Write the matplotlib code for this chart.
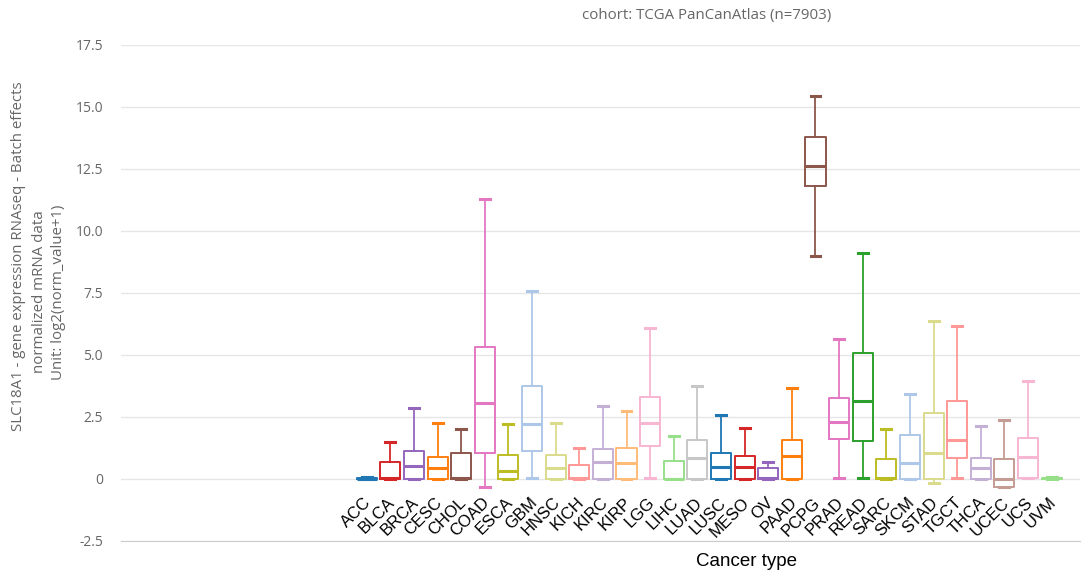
import matplotlib
matplotlib.use("Agg")
import matplotlib.pyplot as plt
import numpy as np

categories = ["ACC", "BLCA", "BRCA", "CESC", "CHOL", "COAD", "ESCA", "GBM", "HNSC", "KICH",
              "KIRC", "KIRP", "LGG", "LIHC", "LUAD", "LUSC", "MESO", "OV", "PAAD", "PCPG",
              "PRAD", "READ", "SARC", "SKCM", "STAD", "TGCT", "THCA", "UCEC", "UCS", "UVM"]
whisker_low = [0.0, 0.0, 0.0, 0.0, 0.0, -0.31, 0.0, 0.05, 0.0, 0.0,
               0.0, 0.0, 0.03, 0.0, 0.0, 0.0, 0.0, 0.0, 0.0, 9.0,
               0.03, 0.03, 0.0, 0.0, -0.17, 0.03, 0.0, -0.31, 0.03, 0.0]
q1 = [0.0, 0.0, 0.0, 0.0, 0.0, 1.06, 0.0, 1.14, 0.0, 0.0,
      0.0, 0.0, 1.34, 0.0, 0.0, 0.0, 0.0, 0.0, 0.0, 11.83,
      1.63, 1.53, 0.0, 0.0, 0.0, 0.83, 0.0, -0.31, 0.03, 0.0]
median = [0.02, 0.05, 0.54, 0.43, 0.05, 3.06, 0.32, 2.2, 0.46, 0.05,
          0.7, 0.66, 2.25, 0.02, 0.83, 0.5, 0.47, 0.03, 0.93, 12.63,
          2.31, 3.16, 0.03, 0.66, 1.04, 1.57, 0.46, 0.0, 0.88, 0.03]
q3 = [0.05, 0.67, 1.14, 0.9, 1.04, 5.32, 0.97, 3.76, 0.97, 0.56,
      1.2, 1.24, 3.29, 0.74, 1.57, 1.06, 0.93, 0.43, 1.57, 13.78,
      3.28, 5.09, 0.79, 1.76, 2.65, 3.15, 0.86, 0.79, 1.64, 0.05]
whisker_high = [0.1, 1.5, 2.85, 2.27, 2.03, 11.29, 2.23, 7.58, 2.27, 1.26,
                2.96, 2.75, 6.08, 1.75, 3.75, 2.58, 2.04, 0.7, 3.66, 15.46,
                5.66, 9.1, 2.0, 3.43, 6.38, 6.18, 2.15, 2.38, 3.96, 0.1]
colors = ["#1f77b4", "#d62728", "#9467bd", "#ff7f0e", "#8c564b", "#e377c2", "#bcbd22", "#aec7e8",
          "#dbdb8d", "#ff9896", "#c5b0d5", "#ffbb78", "#f7b6d2", "#98df8a", "#c7c7c7", "#1f77b4",
          "#d62728", "#9467bd", "#ff7f0e", "#8c564b", "#e377c2", "#2ca02c", "#bcbd22", "#aec7e8",
          "#dbdb8d", "#ff9896", "#c5b0d5", "#c49c94", "#f7b6d2", "#98df8a"]
yticks = [-2.5, 0, 2.5, 5.0, 7.5, 10.0, 12.5, 15.0, 17.5]
ytick_labels = ["-2.5", "0", "2.5", "5.0", "7.5", "10.0", "12.5", "15.0", "17.5"]

W, H = 1084, 573
fig = plt.figure(figsize=(W / 100, H / 100), dpi=100)
L, R, T, B = 121, 1080, 45, 541
ax = fig.add_axes([L / W, 1 - B / H, (R - L) / W, (B - T) / H])

positions = np.arange(len(categories))
stats = []
for i, c in enumerate(categories):
    stats.append(dict(label=c, med=median[i], q1=q1[i], q3=q3[i],
                      whislo=whisker_low[i], whishi=whisker_high[i], fliers=[]))
bp = ax.bxp(stats, positions=positions, widths=0.85, capwidths=0.42,
            showfliers=False, patch_artist=False)
for i, col in enumerate(colors):
    bp["boxes"][i].set(color=col, linewidth=1.4)
    bp["medians"][i].set(color=col, linewidth=2.2)
    for w in bp["whiskers"][2 * i:2 * i + 2]:
        w.set(color=col, linewidth=1.3)
    for cp in bp["caps"][2 * i:2 * i + 2]:
        cp.set(color=col, linewidth=2.2)

ax.set_ylim(-2.5, 17.5)
ax.set_xlim((L - 366.7) / 23.62, (R - 366.7) / 23.62)
ax.set_yticks(yticks)
ax.set_yticklabels(ytick_labels)
ax.set_xticks([])
ax.yaxis.grid(True, color="#e6e6e6", linewidth=1.0)
ax.set_axisbelow(True)
for s in ["top", "right", "left"]:
    ax.spines[s].set_visible(False)
ax.spines["bottom"].set_color("#cccccc")
ax.tick_params(axis="y", length=0, pad=13, labelcolor="#666666", labelsize=10)
for lab in ax.get_yticklabels():
    lab.set_fontfamily("Open Sans")

for i, c in enumerate(categories):
    ax.text(i + 0.1, -0.85, c, rotation=45, rotation_mode="anchor", ha="right", va="center",
            fontsize=12, family="Liberation Sans", color="#000000")

fig.text(707 / W, 1 - 16 / H, "cohort: TCGA PanCanAtlas (n=7903)", ha="center", va="center",
         fontsize=10.8, color="#666666", family="Open Sans")
fig.text(747 / W, 1 - 561 / H, "Cancer type", ha="center", va="center",
         fontsize=13.5, color="#000000", family="Liberation Sans")
fig.text(19 / W, 1 - 256 / H, "SLC18A1 - gene expression RNAseq - Batch effects", rotation=90,
         ha="center", va="center", fontsize=10.8, color="#666666", family="Open Sans")
fig.text(40 / W, 1 - 292 / H, "normalized mRNA data", rotation=90,
         ha="center", va="center", fontsize=10.8, color="#666666", family="Open Sans")
fig.text(59 / W, 1 - 292 / H, "Unit: log2(norm_value+1)", rotation=90,
         ha="center", va="center", fontsize=10.8, color="#666666", family="Open Sans")

fig.savefig("out.png", dpi=100)
